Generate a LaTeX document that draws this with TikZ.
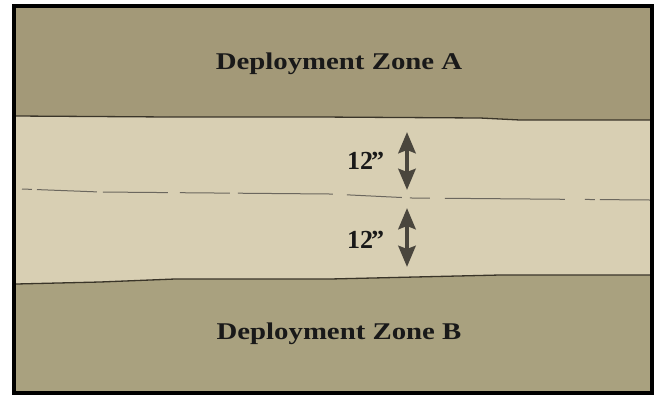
\documentclass[tikz,border=0pt]{standalone}
\usepackage{fontspec}
\usetikzlibrary{arrows.meta}
\newfontfamily\zonefont{Liberation Serif}[FakeStretch=1.2]
\newfontfamily\numfont{Liberation Serif}
\definecolor{zonedark}{HTML}{A39978}
\definecolor{zonedarkb}{HTML}{A9A17F}
\definecolor{bandlight}{HTML}{D8CFB3}
\definecolor{edgeline}{HTML}{3A3529}
\definecolor{arrowgrey}{HTML}{4A463D}
\tikzset{
  zonelabel/.style={anchor=base, inner sep=0pt, text=black!90,
    font=\zonefont\bfseries\fontsize{24bp}{28bp}\selectfont},
  distlabel/.style={anchor=base west, inner sep=0pt, text=black!90,
    font=\numfont\bfseries\fontsize{26bp}{30bp}\selectfont},
  distarrow/.style={draw=arrowgrey, line width=4.5bp,
    {Stealth[length=21bp,width=17bp,inset=3bp]}-{Stealth[length=21bp,width=17bp,inset=3bp]}},
  edgestroke/.style={draw=edgeline, line width=1.3bp},
  midline/.style={draw=edgeline!75, line width=1bp,
    dash pattern=on 10bp off 5bp on 60bp off 6bp on 65bp off 12bp on 50bp off 8bp on 95bp off 14bp on 55bp off 8bp on 20bp off 15bp on 120bp off 20bp}
}
\begin{document}
\begin{tikzpicture}[x=1bp,y=-1bp]
\useasboundingbox (0,0) rectangle (659,395);
\fill[white] (0,0) rectangle (659,395);
% zones
\fill[zonedark] (14,6) rectangle (652,200);
\fill[zonedarkb] (14,200) rectangle (652,393);
\fill[bandlight] (14,116) -- (170,117) -- (320,117) -- (480,118) -- (520,120) -- (652,120)
  -- (652,275) -- (500,275) -- (330,279) -- (175,279) -- (100,282) -- (14,284) -- cycle;
% band edges
\draw[edgestroke] (16,116) -- (170,117) -- (320,117) -- (480,118) -- (520,120) -- (650,120);
\draw[edgestroke] (16,284) -- (100,282) -- (175,279) -- (330,279) -- (500,275) -- (650,275);
% centre line
\draw[midline] (22,189) -- (100,192) -- (330,194) -- (412,198) -- (650,200);
% labels
\node[zonelabel] (za) at (339,69) {Deployment Zone A};
\node[zonelabel] (zb) at (339,339) {Deployment Zone B};
\node[distlabel] (d1) at (347,169) {12\kern-2bp”};
\node[distlabel] (d2) at (347,248) {12\kern-2bp”};
% arrows
\coordinate (a1t) at (407,132);
\coordinate (a1b) at (407,190);
\coordinate (a2t) at (407,208);
\coordinate (a2b) at (407,267);
\draw[distarrow] (a1t) -- (a1b);
\draw[distarrow] (a2t) -- (a2b);
% frame
\draw[line width=4bp] (14,6) rectangle (652,393);
\end{tikzpicture}
\end{document}
